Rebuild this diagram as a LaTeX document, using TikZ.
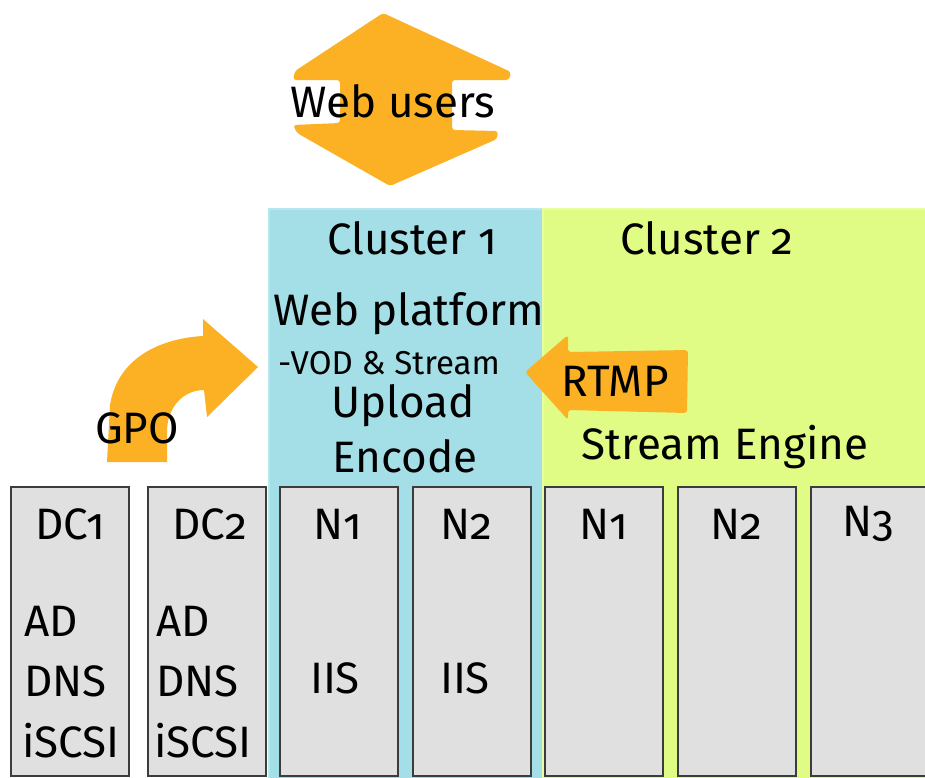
\documentclass[tikz,border=0pt]{standalone}
\usepackage{fontspec}
\setmainfont{Fira Sans}[Numbers=OldStyle]
\definecolor{arrowc}{RGB}{252,177,36}
\definecolor{cafill}{RGB}{164,222,231}
\definecolor{caline}{RGB}{184,230,238}
\definecolor{cbfill}{RGB}{224,252,132}
\definecolor{cbline}{RGB}{232,253,160}
\definecolor{boxfill}{RGB}{224,224,224}
\definecolor{boxline}{RGB}{60,60,60}
\tikzset{
  srv/.style={draw=boxline, fill=boxfill, line width=1.5pt, anchor=north west, inner sep=0pt, minimum width=118pt, minimum height=289pt},
  lbl/.style={font=\fontsize{44}{46}\selectfont, inner sep=0pt},
  small/.style={font=\fontsize{33}{35}\selectfont, inner sep=0pt},
  blockarrow/.style={fill=arrowc, rounded corners=3pt},
}
\begin{document}
\begin{tikzpicture}[x=1pt,y=-1pt]
\useasboundingbox (0,0) rectangle (925,777);
% clusters
\node[fill=cafill, draw=caline, line width=2pt, anchor=north west, inner sep=0pt, minimum width=274pt, minimum height=570pt] (c1) at (268,208) {};
\node[fill=cbfill, draw=cbline, line width=2pt, anchor=north west, inner sep=0pt, minimum width=390pt, minimum height=570pt] (c2) at (542,208) {};
% servers
\node[srv] (dc1) at (10,486) {};
\node[srv] (dc2) at (147,486) {};
\node[srv] (an1) at (279,486) {};
\node[srv] (an2) at (412,486) {};
\node[srv] (bn1) at (544,486) {};
\node[srv] (bn2) at (677,486) {};
\node[srv] (bn3) at (810,486) {};
% arrows
\fill[blockarrow] (383,13) -- (511,72) -- (509,80) -- (452,80) -- (452,130) -- (498,131) -- (497,139) -- (390,186) -- (297,133) -- (293,125) -- (340,123) -- (340,80) -- (293,80) -- (295,71) -- cycle;
\fill[arrowc] (107,462) -- (110,405) .. controls (118,355) and (165,338) .. (203,336) -- (203,319) -- (258,367) -- (207,417) -- (204,390) .. controls (185,390) and (168,405) .. (167,430) -- (167,462) -- cycle;
\fill[blockarrow] (525,372) -- (568,335) -- (568,352) -- (688,350) -- (687,413) -- (568,410) -- (568,420) -- cycle;
% texts
\node[lbl] (webusers) at (393,101) {Web users};
\node[lbl] (gpo) at (137,428) {GPO};
\node[lbl] (rtmp) at (615,381) {RTMP};
\node[lbl] (c1t) at (412,238) {Cluster 1};
\node[lbl] (c2t) at (707,238) {Cluster 2};
\node[lbl] (wp) at (409,314) {Web platform};
\node[small] (vod) at (389,363) {-VOD \& Stream};
\node[lbl] (upl) at (403,406) {Upload};
\node[lbl] (enc) at (405,456) {Encode};
\node[lbl] (se) at (725,447) {Stream Engine};
\node[lbl] (dc1t) at (70,524) {DC1};
\node[lbl] (dc2t) at (210,524) {DC2};
\node[lbl] (an1t) at (338,524) {N1};
\node[lbl] (an2t) at (466,524) {N2};
\node[lbl] (bn1t) at (604,524) {N1};
\node[lbl] (bn2t) at (736,524) {N2};
\node[lbl] (bn3t) at (868,524) {N3};
\node[lbl, anchor=west] (dc1a) at (24,621) {AD};
\node[lbl, anchor=west] (dc1b) at (24,681) {DNS};
\node[lbl, anchor=west] (dc1c) at (22,741) {iSCSI};
\node[lbl, anchor=west] (dc2a) at (156,621) {AD};
\node[lbl, anchor=west] (dc2b) at (156,681) {DNS};
\node[lbl, anchor=west] (dc2c) at (154,741) {iSCSI};
\node[lbl] (an1s) at (335,678) {IIS};
\node[lbl] (an2s) at (465,678) {IIS};
\end{tikzpicture}
\end{document}
